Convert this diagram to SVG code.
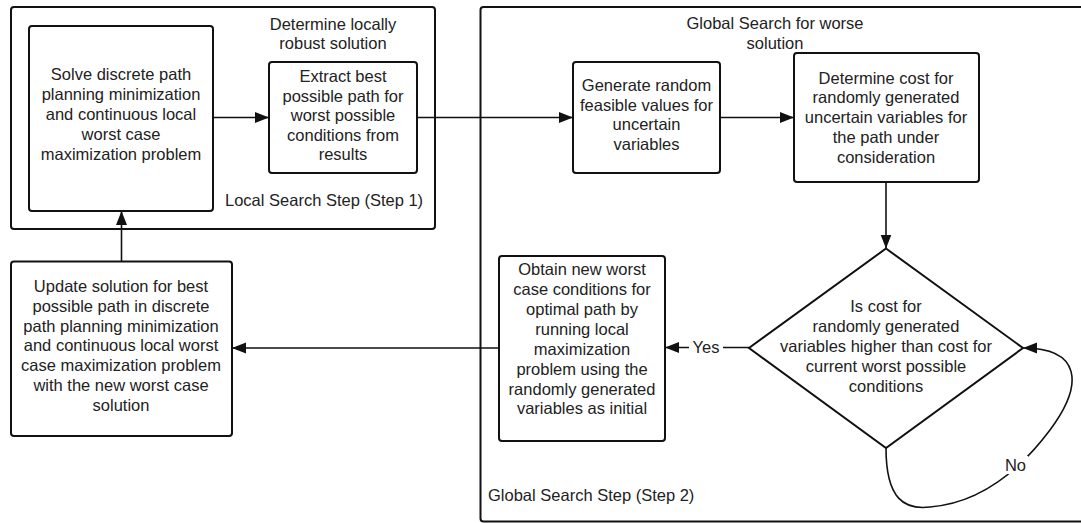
<svg xmlns="http://www.w3.org/2000/svg" width="1081" height="523" viewBox="0 0 1081 523">
<style>
.box{fill:#fff;stroke:#111;stroke-width:2}
.frame{fill:none;stroke:#111;stroke-width:2}
.con{fill:none;stroke:#111;stroke-width:1.6}
text{font-family:"Liberation Sans",Arial,sans-serif;font-size:16.5px;fill:#222}
.m{text-anchor:middle}
</style>
<defs>
<marker id="ah" markerUnits="userSpaceOnUse" markerWidth="15" markerHeight="12" refX="14" refY="5.5" orient="auto">
<path d="M0,0 L14,5.5 L0,11 z" fill="#111"/>
</marker>
</defs>
<g id="local-frame">
<rect class="frame" x="11" y="7" width="424" height="222" rx="3"/>
<text class="m" x="333" y="30">Determine locally</text>
<text class="m" x="333" y="49">robust solution</text>
<text x="225" y="206">Local Search Step (Step 1)</text>
</g>
<g id="global-frame">
<rect class="frame" x="480.5" y="7" width="640" height="514.5" rx="3"/>
<text class="m" x="775" y="29">Global Search for worse</text>
<text class="m" x="775" y="49">solution</text>
<text x="488" y="501">Global Search Step (Step 2)</text>
</g>
<g id="connectors">
<line class="con" x1="213" y1="117.5" x2="269" y2="117.5" marker-end="url(#ah)"/>
<line class="con" x1="417" y1="117.5" x2="573" y2="117.5" marker-end="url(#ah)"/>
<line class="con" x1="720" y1="117.5" x2="794" y2="117.5" marker-end="url(#ah)"/>
<line class="con" x1="886" y1="182" x2="886" y2="248.5" marker-end="url(#ah)"/>
<line class="con" x1="749" y1="347.5" x2="665" y2="347.5" marker-end="url(#ah)"/>
<line class="con" x1="499" y1="348" x2="232" y2="348" marker-end="url(#ah)"/>
<line class="con" x1="121.5" y1="261.5" x2="121.5" y2="211" marker-end="url(#ah)"/>
<path class="con" d="M886,448 C886,500 905,510 930,507 C980,503 1020,470 1050,430 C1085,383 1080,348 1023,348" marker-end="url(#ah)"/>
<rect x="689" y="338" width="34" height="18" fill="#fff"/>
<text class="m" x="706" y="353">Yes</text>
<rect x="1003" y="456" width="25" height="18" fill="#fff"/>
<text class="m" x="1015.5" y="471">No</text>
</g>
<g id="solve">
<rect class="box" x="29" y="26" width="184" height="185" rx="3"/>
<text class="m" x="121" y="80">Solve discrete path</text>
<text class="m" x="121" y="100">planning minimization</text>
<text class="m" x="121" y="120">and continuous local</text>
<text class="m" x="121" y="140">worst case</text>
<text class="m" x="121" y="160">maximization problem</text>
</g>
<g id="extract">
<rect class="box" x="269" y="62" width="148" height="111" rx="3"/>
<text class="m" x="343" y="82">Extract best</text>
<text class="m" x="343" y="101.5">possible path for</text>
<text class="m" x="343" y="121">worst possible</text>
<text class="m" x="343" y="140.5">conditions from</text>
<text class="m" x="343" y="160">results</text>
</g>
<g id="generate">
<rect class="box" x="573" y="62" width="147" height="111" rx="3"/>
<text class="m" x="646.5" y="91">Generate random</text>
<text class="m" x="646.5" y="111">feasible values for</text>
<text class="m" x="646.5" y="130">uncertain</text>
<text class="m" x="646.5" y="150">variables</text>
</g>
<g id="cost">
<rect class="box" x="794" y="53" width="185" height="129" rx="3"/>
<text class="m" x="886" y="83.5">Determine cost for</text>
<text class="m" x="886" y="103">randomly generated</text>
<text class="m" x="886" y="123">uncertain variables for</text>
<text class="m" x="886" y="142.5">the path under</text>
<text class="m" x="886" y="162.5">consideration</text>
</g>
<g id="decision">
<polygon class="box" points="886,248.5 1023,348 886,448 749,348"/>
<text class="m" x="886" y="312">Is cost for</text>
<text class="m" x="886" y="332">randomly generated</text>
<text class="m" x="886" y="352">variables higher than cost for</text>
<text class="m" x="886" y="372">current worst possible</text>
<text class="m" x="886" y="391.5">conditions</text>
</g>
<g id="obtain">
<rect class="box" x="499" y="256" width="166" height="185" rx="3"/>
<text class="m" x="582" y="275">Obtain new worst</text>
<text class="m" x="582" y="295">case conditions for</text>
<text class="m" x="582" y="315">optimal path by</text>
<text class="m" x="582" y="335">running local</text>
<text class="m" x="582" y="355">maximization</text>
<text class="m" x="582" y="375">problem using the</text>
<text class="m" x="582" y="394.5">randomly generated</text>
<text class="m" x="582" y="414">variables as initial</text>
</g>
<g id="update">
<rect class="box" x="11" y="261.5" width="221" height="174.5" rx="3"/>
<text class="m" x="121" y="291.5">Update solution for best</text>
<text class="m" x="121" y="311.5">possible path in discrete</text>
<text class="m" x="121" y="331.5">path planning minimization</text>
<text class="m" x="121" y="351">and continuous local worst</text>
<text class="m" x="121" y="371">case maximization problem</text>
<text class="m" x="121" y="391">with the new worst case</text>
<text class="m" x="121" y="411">solution</text>
</g>
</svg>
